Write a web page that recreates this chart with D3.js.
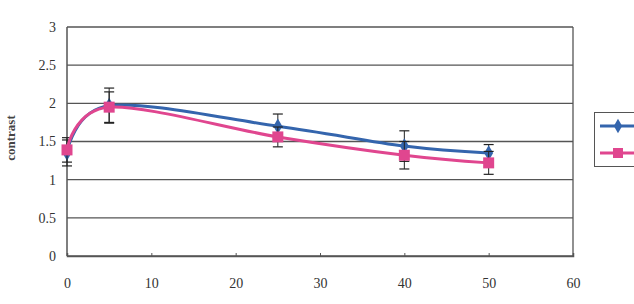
<!DOCTYPE html>
<html>
<head>
<meta charset="utf-8">
<script src="https://cdn.jsdelivr.net/npm/d3@7"></script>
<style>
  body { margin: 0; background: #fff; }
  svg { display: block; }
  .tick text { font-family: 'Liberation Serif', 'DejaVu Serif', serif; font-size: 14px; fill: #333; }
</style>
</head>
<body>
<svg id="chart" width="634" height="304"></svg>
<script>
// chart values
const times = [0, 5, 25, 40, 50]
const seriesA = [1.35, 1.97, 1.70, 1.44, 1.35]
const errA = [0.17, 0.23, 0.16, 0.20, 0.11]
const seriesB = [1.39, 1.95, 1.56, 1.32, 1.22]
const errB = [0.16, 0.20, 0.13, 0.18, 0.15]
const xTicks = [0, 10, 20, 30, 40, 50, 60]
const yTicks = [0, 0.5, 1, 1.5, 2, 2.5, 3]

const blue = '#3465ad'
const pink = '#e0468f'

const svg = d3.select('#chart')
const plotL = 67, plotR = 573, plotT = 27, plotB = 256

const x = d3.scaleLinear().domain([0, 60]).range([plotL, plotR])
const y = d3.scaleLinear().domain([0, 3]).range([plotB, plotT])

// grid lines
svg.append('g')
  .selectAll('line')
  .data(yTicks)
  .enter().append('line')
  .attr('x1', plotL).attr('x2', plotR)
  .attr('y1', d => y(d)).attr('y2', d => y(d))
  .attr('stroke', '#555').attr('stroke-width', 1.3)

// plot borders
svg.append('line').attr('x1', plotL).attr('x2', plotL).attr('y1', plotT).attr('y2', plotB)
  .attr('stroke', '#555').attr('stroke-width', 1.5)
svg.append('line').attr('x1', plotR).attr('x2', plotR).attr('y1', plotT).attr('y2', plotB)
  .attr('stroke', '#555').attr('stroke-width', 1.3)

// axes
const xAxis = svg.append('g')
  .attr('transform', `translate(0,${plotB})`)
  .call(d3.axisBottom(x).tickValues(xTicks).tickSize(-3).tickPadding(22).tickFormat(d3.format('d')))
xAxis.select('.domain').attr('stroke', '#555').attr('stroke-width', 1.5)
xAxis.selectAll('.tick line').attr('stroke', '#555')

const yAxis = svg.append('g')
  .attr('transform', `translate(${plotL},0)`)
  .call(d3.axisLeft(y).tickValues(yTicks).tickSize(0).tickPadding(11).tickFormat(d => String(d)))
yAxis.select('.domain').remove()

svg.append('text')
  .attr('transform', `translate(15,138) rotate(-90)`)
  .attr('text-anchor', 'middle')
  .attr('font-family', "'Liberation Serif', serif")
  .attr('font-size', 13)
  .attr('font-weight', 'bold')
  .attr('fill', '#444')
  .text('contrast')

const line = d3.line()
  .x(d => x(d[0]))
  .y(d => y(d[1]))
  .curve(d3.curveCatmullRom.alpha(0))

function drawSeries (vals, errs, color, shape, size) {
  const pts = times.map((t, i) => [t, vals[i], errs[i]])
  const g = svg.append('g')
  // error bars
  const eb = g.selectAll('g.err').data(pts).enter().append('g')
  eb.append('line')
    .attr('x1', d => x(d[0])).attr('x2', d => x(d[0]))
    .attr('y1', d => y(d[1] - d[2])).attr('y2', d => y(d[1] + d[2]))
    .attr('stroke', '#222').attr('stroke-width', 1)
  eb.selectAll('line.cap')
    .data(d => [[d[0], d[1] - d[2]], [d[0], d[1] + d[2]]])
    .enter().append('line')
    .attr('x1', d => x(d[0]) - 5).attr('x2', d => x(d[0]) + 5)
    .attr('y1', d => y(d[1])).attr('y2', d => y(d[1]))
    .attr('stroke', '#222').attr('stroke-width', 1.2)
  g.append('path')
    .datum(pts)
    .attr('d', line)
    .attr('fill', 'none')
    .attr('stroke', color)
    .attr('stroke-width', 3)
  g.selectAll('path.mk').data(pts).enter().append('path')
    .attr('d', d3.symbol().type(shape).size(size))
    .attr('transform', d => `translate(${x(d[0])},${y(d[1])})`)
    .attr('fill', color)
}

drawSeries(seriesA, errA, blue, d3.symbolDiamond, 70)
drawSeries(seriesB, errB, pink, d3.symbolSquare, 121)

// legend (text cut off by the frame)
const lg = svg.append('g')
lg.append('rect')
  .attr('x', 594.5).attr('y', 112.5).attr('width', 60).attr('height', 54)
  .attr('fill', '#fff').attr('stroke', '#555').attr('stroke-width', 1)
const legendItems = [[blue, d3.symbolDiamond, 60, 126], [pink, d3.symbolSquare, 100, 153]]
legendItems.forEach(([c, s, sz, ly]) => {
  lg.append('line').attr('x1', 600).attr('x2', 640).attr('y1', ly).attr('y2', ly)
    .attr('stroke', c).attr('stroke-width', 3)
  lg.append('path').attr('d', d3.symbol().type(s).size(sz))
    .attr('transform', `translate(618,${ly})`).attr('fill', c)
})
</script>
</body>
</html>
